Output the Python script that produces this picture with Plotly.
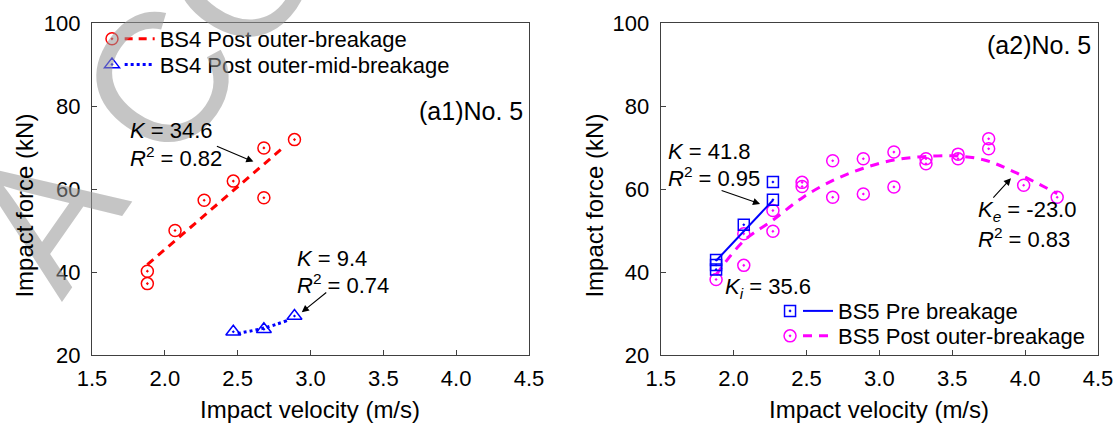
import plotly.graph_objects as go

# ---------------- data ----------------
# Panel (a1): BS4
bs4_outer_v = [1.88, 1.88, 2.07, 2.27, 2.47, 2.68, 2.68, 2.89]
bs4_outer_f = [40.2, 37.2, 50.0, 57.3, 61.9, 69.9, 57.9, 71.9]
bs4_outer_fit_v = [1.88, 2.80]
bs4_outer_fit_f = [41.8, 69.6]

bs4_mid_v = [2.47, 2.68, 2.89]
bs4_mid_f = [25.6, 26.2, 29.4]
bs4_mid_fit_v = [2.50, 2.68, 2.84]
bs4_mid_fit_f = [25.2, 26.5, 28.3]

# Panel (a2): BS5
bs5_pre_v = [1.88, 1.88, 1.88, 2.07, 2.27, 2.27]
bs5_pre_f = [42.9, 41.7, 40.6, 51.4, 61.7, 57.4]
bs5_pre_fit_v = [1.88, 2.27]
bs5_pre_fit_f = [42.7, 57.3]

bs5_post_v = [1.88, 2.07, 2.07, 2.27, 2.27, 2.47, 2.47, 2.68, 2.68, 2.89, 2.89,
              3.10, 3.10, 3.32, 3.32, 3.54, 3.54, 3.75, 3.75, 3.99, 4.22]
bs5_post_f = [38.2, 49.2, 41.6, 54.8, 49.8, 61.6, 60.6, 66.8, 58.0, 67.3, 58.8,
              68.9, 60.5, 67.3, 66.1, 68.4, 67.3, 72.1, 69.7, 60.9, 58.0]
bs5_post_fit_v = [1.88, 2.07, 2.27, 2.48, 2.69, 2.89, 3.10, 3.30, 3.51, 3.72, 3.92, 4.22]
bs5_post_fit_f = [39.3, 47.5, 52.5, 58.1, 62.2, 65.0, 67.0, 67.8, 68.0, 67.0, 64.2, 58.9]

series_names = ["BS4 Post outer-breakage", "BS4 Post outer-mid-breakage",
                "BS5 Pre breakage", "BS5 Post outer-breakage"]
x_title = "Impact velocity (m/s)"
y_title = "Impact force (kN)"
# visible watermark letters and their (paper) centres
watermark_letters = ["A", "C", "C", "E"]
watermark_x = [-0.047, 0.068, 0.147, 0.227]
watermark_y = [0.422, 0.829, 1.144, 1.460]

FONT = "Arial, Liberation Sans, sans-serif"
RED, BLUE, MAG = "#FF0000", "#0000FF", "#FF00FF"

fig = go.Figure()

def markers(x, y, color, symbol, size, xa, ya):
    fig.add_trace(go.Scatter(x=x, y=y, mode="markers", xaxis=xa, yaxis=ya, showlegend=False,
                             marker=dict(symbol=symbol, size=size, color=color,
                                         line=dict(width=1.5, color=color))))

def fitline(x, y, color, dash, width, xa, ya):
    fig.add_trace(go.Scatter(x=x, y=y, mode="lines", xaxis=xa, yaxis=ya, showlegend=False,
                             line=dict(color=color, dash=dash, width=width, shape="spline")))

def legend_marker(color, symbol, size, legend):
    fig.add_trace(go.Scatter(x=[None], y=[None], mode="markers", name="", legend=legend,
                             marker=dict(symbol=symbol, size=size, color=color,
                                         line=dict(width=1.5, color=color))))

def legend_line(name, color, dash, width, legend):
    fig.add_trace(go.Scatter(x=[None], y=[None], mode="lines", name=name, legend=legend,
                             line=dict(color=color, dash=dash, width=width)))

# panel a1
markers(bs4_outer_v, bs4_outer_f, RED, "circle-open-dot", 12, "x", "y")
fitline(bs4_outer_fit_v, bs4_outer_fit_f, RED, "8px,6px", 3, "x", "y")
markers(bs4_mid_v, bs4_mid_f, BLUE, "triangle-up-open-dot", 13, "x", "y")
fitline(bs4_mid_fit_v, bs4_mid_fit_f, BLUE, "3px,3px", 3, "x", "y")
legend_marker(RED, "circle-open-dot", 12, "legend")
legend_line(series_names[0], RED, "8px,6px", 3, "legend2")
legend_marker(BLUE, "triangle-up-open-dot", 13, "legend3")
legend_line(series_names[1], BLUE, "3px,3px", 3, "legend4")

# panel a2
fitline(bs5_post_fit_v, bs5_post_fit_f, MAG, "9px,7px", 3, "x2", "y2")
markers(bs5_post_v, bs5_post_f, MAG, "circle-open-dot", 12, "x2", "y2")
fitline(bs5_pre_fit_v, bs5_pre_fit_f, BLUE, "solid", 2, "x2", "y2")
markers(bs5_pre_v, bs5_pre_f, BLUE, "square-open-dot", 11, "x2", "y2")
legend_marker(BLUE, "square-open-dot", 11, "legend5")
legend_line(series_names[2], BLUE, "solid", 2, "legend6")
legend_marker(MAG, "circle-open-dot", 12, "legend7")
legend_line(series_names[3], MAG, "9px,7px", 3, "legend8")

axis_common = dict(showline=True, linecolor="#404040", linewidth=1.2, mirror=True,
                   ticks="inside", ticklen=5, tickwidth=1, tickcolor="#404040",
                   showgrid=False, zeroline=False,
                   tickfont=dict(family=FONT, size=22, color="black"))
xa = dict(axis_common, range=[1.5, 4.5], dtick=0.5, tick0=1.5, tickformat=".1f", ticklabelstandoff=3)
ya = dict(axis_common, range=[20, 100], dtick=20, tick0=20, ticklabelstandoff=6)

annotations = []
# watermark letters (drawn first, behind the other texts)
for ch, wx, wy in zip(watermark_letters, watermark_x, watermark_y):
    annotations.append(dict(xref="paper", yref="paper", x=wx, y=wy, text=ch,
                            showarrow=False, textangle=-55, xanchor="center", yanchor="middle",
                            font=dict(family=FONT, size=185, color="rgba(150,150,150,0.55)")))

def txt(x, y, text, xref, yref, anchor="left", size=22):
    annotations.append(dict(x=x, y=y, xref=xref, yref=yref, text=text, showarrow=False,
                            xanchor=anchor, yanchor="middle",
                            font=dict(family=FONT, size=size, color="black")))

def arrow(x, y, ax, ay, xref, yref):
    annotations.append(dict(x=x, y=y, xref=xref, yref=yref, ax=ax, ay=ay, text="",
                            showarrow=True, arrowhead=2, arrowsize=1.3, arrowwidth=1.1,
                            arrowcolor="black", standoff=0, startstandoff=0))

# axis titles
txt(0.2171, -0.164, x_title, "paper", "paper", "center", 24)
txt(0.7825, -0.164, x_title, "paper", "paper", "center", 24)
for xp in (-0.0666, 0.5):
    annotations.append(dict(x=xp, y=0.45, xref="paper", yref="paper", text=y_title, showarrow=False,
                            textangle=-90, xanchor="center", yanchor="middle",
                            font=dict(family=FONT, size=24, color="black")))

# panel a1 texts
txt(4.474, 78.8, "(a1)No. 5", "x", "y", "right", 25)
txt(1.745, 74.1, "<i>K</i> = 34.6", "x", "y")
txt(1.745, 67.8, "<i>R</i><sup>2</sup> = 0.82", "x", "y")
arrow(2.608, 66.6, -38, -16, "x", "y")
txt(2.895, 43.2, "<i>K</i> = 9.4", "x", "y")
txt(2.895, 37.0, "<i>R</i><sup>2</sup> = 0.74", "x", "y")
arrow(2.94, 30.3, 26, -21, "x", "y")

# panel a2 texts
txt(4.468, 94.8, "(a2)No. 5", "x2", "y2", "right", 25)
txt(1.535, 69.0, "<i>K</i> = 41.8", "x2", "y2")
txt(1.535, 62.8, "<i>R</i><sup>2</sup> = 0.95", "x2", "y2")
arrow(2.182, 56.4, -40, -14, "x2", "y2")
txt(1.925, 36.1, "<i>K<sub>i</sub></i> = 35.6", "x2", "y2")
txt(3.665, 54.6, "<i>K<sub>e</sub></i> = -23.0", "x2", "y2")
txt(3.665, 48.2, "<i>R</i><sup>2</sup> = 0.83", "x2", "y2")
arrow(3.903, 62.6, -19, 21, "x2", "y2")

def leg(x, y):
    return dict(x=x, y=y, xanchor="left", yanchor="top", bgcolor="rgba(0,0,0,0)",
                font=dict(family=FONT, size=22, color="black"), tracegroupgap=0)

fig.update_layout(
    width=1119, height=425,
    margin=dict(l=92, r=21, t=23, b=70, autoexpand=False),
    paper_bgcolor="white", plot_bgcolor="white",
    font=dict(family=FONT, size=22, color="black"),
    xaxis=dict(xa, domain=[0, 0.4344], anchor="y"),
    yaxis=dict(ya, domain=[0, 1], anchor="x"),
    xaxis2=dict(xa, domain=[0.5653, 1], anchor="y2"),
    yaxis2=dict(ya, domain=[0, 1], anchor="x2"),
    legend=leg(0.0, 1.015), legend2=leg(0.0275, 1.015),
    legend3=leg(0.0, 0.938), legend4=leg(0.0275, 0.938),
    legend5=leg(0.674, 0.1955), legend6=leg(0.7018, 0.1955),
    legend7=leg(0.674, 0.1203), legend8=leg(0.7018, 0.1203),
    annotations=annotations,
    showlegend=True,
)

fig.write_html("out.html", config={"displayModeBar": False},
               post_script="document.body.style.margin='0px';")
